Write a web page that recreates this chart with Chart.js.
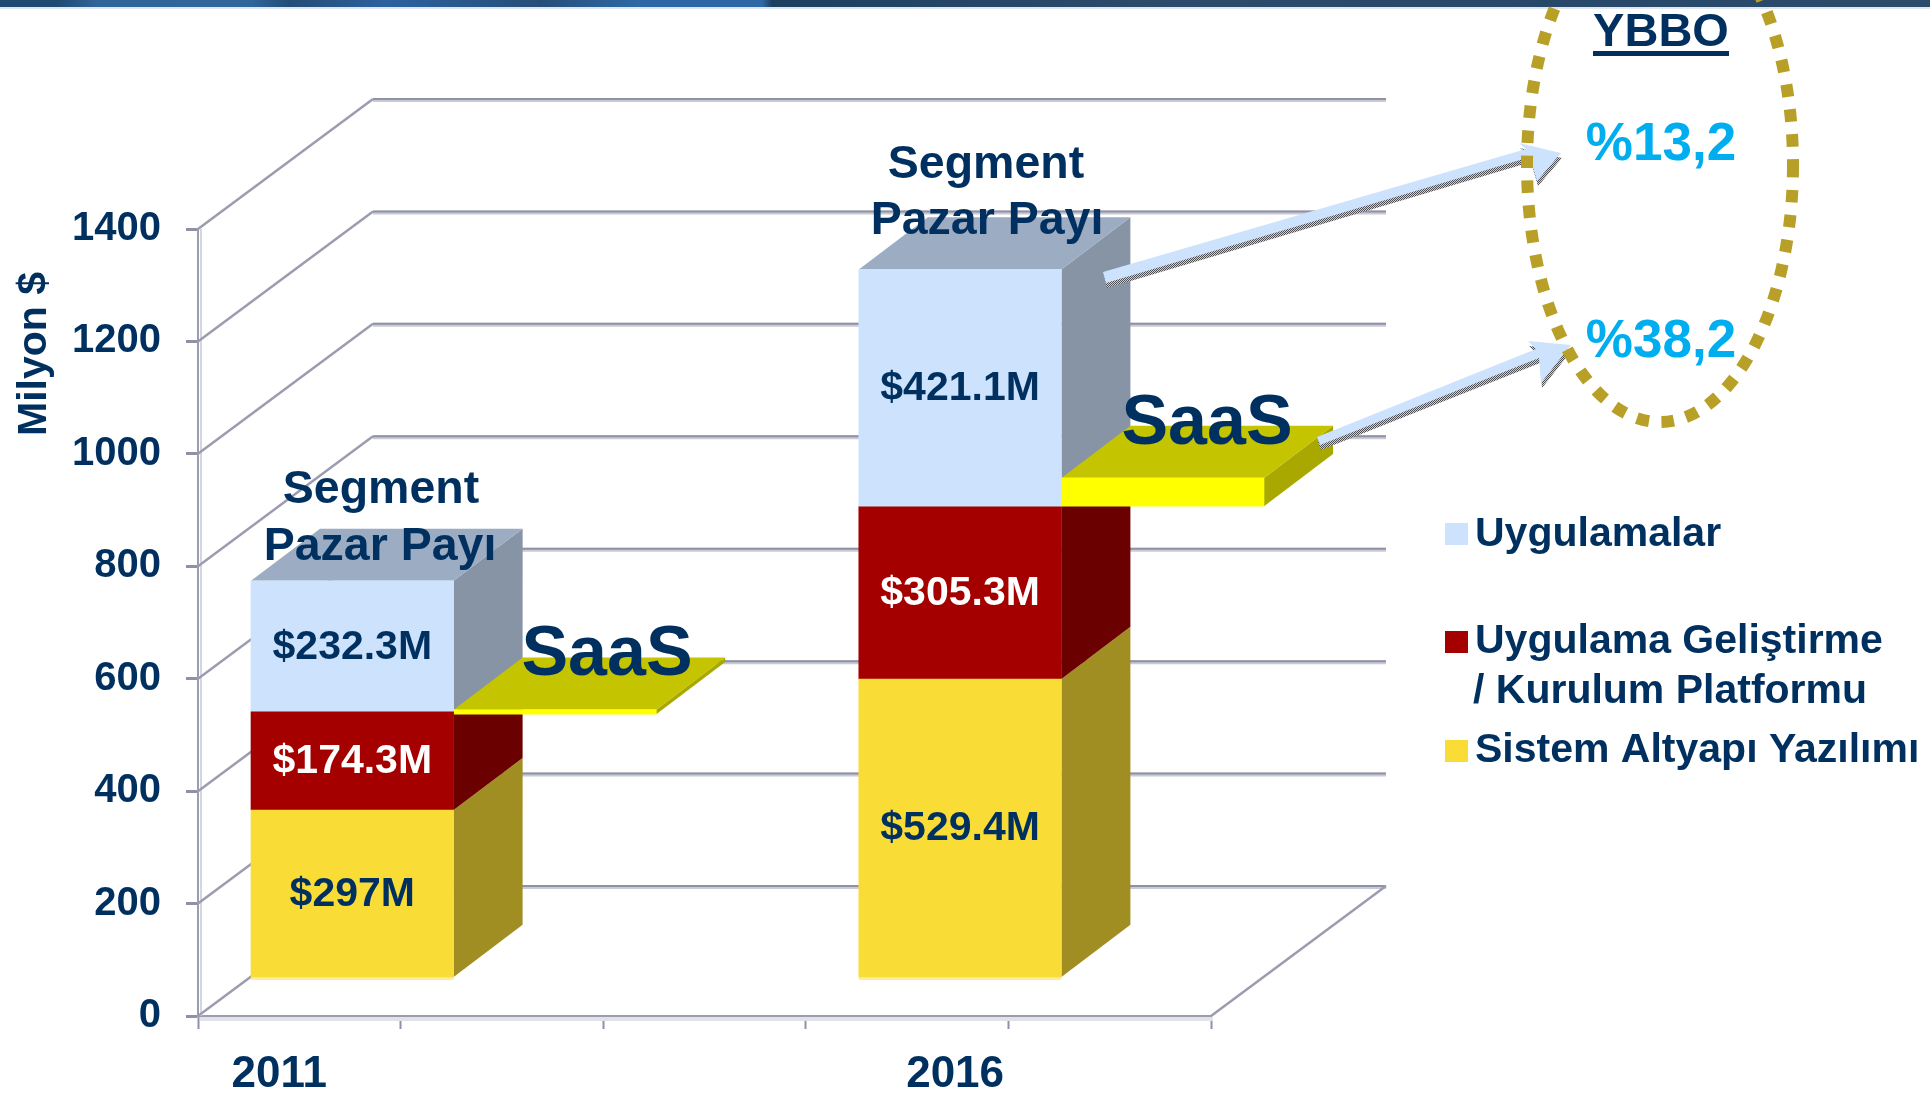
<!DOCTYPE html>
<html lang="tr">
<head>
<meta charset="utf-8">
<title>Segment Pazar Payı</title>
<script src="https://cdn.jsdelivr.net/npm/chart.js@4/dist/chart.umd.min.js"></script>
<style>
html,body{margin:0;padding:0;background:#fff;overflow:hidden}
canvas{display:block}
</style>
</head>
<body>
<canvas id="c" width="1930" height="1096"></canvas>
<script>
// ---- data ----
const categories = ["2011", "", "", "2016", ""];
const sistemAltyapi = [297, null, null, 529.4, null];
const uygulamaGelistirme = [174.3, null, null, 305.3, null];
const uygulamalar = [232.3, null, null, 421.1, null];
const saasBase = [null, 467, null, null, 836];
const saasValues = [null, 8, null, null, 50];
const yTicks = [0, 200, 400, 600, 800, 1000, 1200, 1400];
const legendLabels = ["Uygulamalar", "Uygulama Geliştirme", "/ Kurulum Platformu", "Sistem Altyapı Yazılımı"];
const growthRates = ["%13,2", "%38,2"];

const NAVY = "#00305f", FONT = '"Liberation Sans", Arial, sans-serif';
const font = px => `bold ${px}px ${FONT}`;
// 3D projection offsets
const WALL = {dx: 175, dy: -130};
const BAR_SHIFT = {dx: 53, dy: -38.5, sy: 1.003};
const DEPTH = {dx: 69, dy: -52};
const FACES = [
  {side: "#a18e22"},
  {side: "#6b0000"},
  {side: "#8694a5", top: "#9cacc2"},
  null,
  {side: "#a8a800", top: "#c4c400"}
];
const X_LABEL_SHIFT = [-20, 0, 0, 48, 0];

function poly(ctx, pts, fill) {
  ctx.beginPath();
  pts.forEach((p, i) => i ? ctx.lineTo(p[0], p[1]) : ctx.moveTo(p[0], p[1]));
  ctx.closePath();
  ctx.fillStyle = fill;
  ctx.fill();
}
function text(ctx, s, x, y, px, color, align) {
  ctx.font = font(px);
  ctx.fillStyle = color;
  ctx.textAlign = align || "center";
  ctx.textBaseline = "alphabetic";
  ctx.fillText(s, x, y);
}
function shiftedY(area, y) { return area.bottom + BAR_SHIFT.dy + (y - area.bottom) * BAR_SHIFT.sy; }
function speckle(ctx) {
  const c = document.createElement("canvas");
  c.width = c.height = 2;
  const x = c.getContext("2d");
  x.fillStyle = "#d0d0d0"; x.fillRect(0, 0, 2, 2);
  x.fillStyle = "#4e4e52"; x.fillRect(0, 0, 1, 1); x.fillRect(1, 1, 1, 1);
  return ctx.createPattern(c, "repeat");
}

const scene = {
  id: "scene",
  afterLayout(chart) {
    const s = chart.scales.x;
    s._labelItems = null;
    const items = s._computeLabelItems(chart.chartArea);
    items.forEach((it, i) => { if (it.options && it.options.translation) it.options.translation[0] += X_LABEL_SHIFT[i] || 0; });
    s._labelItems = items;
  },
  beforeDraw(chart) {
    const ctx = chart.ctx;
    ctx.save();
    ctx.fillStyle = "#ffffff";
    ctx.fillRect(0, 0, chart.width, chart.height);
    const g = ctx.createLinearGradient(0, 0, chart.width, 0);
    [[0, "#1f4a72"], [0.03, "#1f4a72"], [0.05, "#30649a"], [0.13, "#2f669c"], [0.15, "#234d75"], [0.2, "#2c62a0"], [0.28, "#264f78"], [0.33, "#2e68a5"], [0.395, "#2e68a5"], [0.4, "#1e4060"], [0.6, "#2c4c6c"], [0.8, "#28486a"], [1, "#2c4c6c"]]
      .forEach(a => g.addColorStop(a[0], a[1]));
    ctx.fillStyle = g;
    ctx.fillRect(0, 0, chart.width, 7);
    ctx.fillStyle = "#dfe6ee";
    ctx.fillRect(0, 7, chart.width, 2);
    ctx.restore();
  },
  beforeDatasetsDraw(chart) {
    const ctx = chart.ctx, a = chart.chartArea, y = chart.scales.y;
    ctx.save();
    // floor halo and wall lines
    ctx.fillStyle = "#e0e2e8";
    ctx.fillRect(a.left + 2, a.bottom + 1, a.right - a.left, 4);
    ctx.fillStyle = "#d4d6de";
    ctx.fillRect(a.left + 2, a.top, 2, a.bottom - a.top);
    yTicks.forEach(v => {
      const py = y.getPixelForValue(v);
      ctx.strokeStyle = "#c8cad4";
      ctx.lineWidth = 4;
      ctx.beginPath();
      ctx.moveTo(a.left + WALL.dx, py + WALL.dy + 1);
      ctx.lineTo(a.right + WALL.dx, py + WALL.dy + 1);
      ctx.stroke();
      ctx.strokeStyle = "#8f91a6";
      ctx.lineWidth = 2;
      ctx.beginPath();
      ctx.moveTo(a.left + WALL.dx, py + WALL.dy);
      ctx.lineTo(a.right + WALL.dx, py + WALL.dy);
      ctx.stroke();
      ctx.strokeStyle = "#9b9cb0";
      ctx.lineWidth = 2.5;
      ctx.beginPath();
      ctx.moveTo(a.left, py);
      ctx.lineTo(a.left + WALL.dx, py + WALL.dy);
      ctx.stroke();
    });
    ctx.strokeStyle = "#9b9cb0";
    ctx.lineWidth = 2.5;
    ctx.beginPath();
    ctx.moveTo(a.right, a.bottom);
    ctx.lineTo(a.right + WALL.dx, a.bottom + WALL.dy);
    ctx.stroke();
    ctx.restore();
    // bars are moved into the middle of the floor depth
    ctx.save();
    ctx.translate(BAR_SHIFT.dx, BAR_SHIFT.dy);
    ctx.translate(0, a.bottom);
    ctx.scale(1, BAR_SHIFT.sy);
    ctx.translate(0, -a.bottom);
    FACES.forEach((f, di) => {
      if (!f) return;
      const ds = chart.data.datasets[di];
      chart.getDatasetMeta(di).data.forEach((el, i) => {
        if (ds.data[i] == null) return;
        const p = el.getProps(["x", "y", "base", "width"], true);
        const L = p.x - p.width / 2, R = p.x + p.width / 2, T = p.y, B = p.base;
        poly(ctx, [[R, B], [R + DEPTH.dx, B + DEPTH.dy], [R + DEPTH.dx, T + DEPTH.dy], [R, T]], f.side);
        if (f.top) poly(ctx, [[L, T], [L + DEPTH.dx, T + DEPTH.dy], [R + DEPTH.dx, T + DEPTH.dy], [R, T]], f.top);
        if (di === 0) { ctx.fillStyle = "#fbeca0"; ctx.fillRect(L, B, p.width, 3); }
      });
    });
  },
  afterDatasetsDraw(chart) {
    const ctx = chart.ctx, a = chart.chartArea;
    ctx.restore();
    ctx.save();
    // value labels centred on the front faces
    [[0, NAVY], [1, "#ffffff"], [2, NAVY]].forEach(([di, color]) => {
      const ds = chart.data.datasets[di];
      chart.getDatasetMeta(di).data.forEach((el, i) => {
        if (ds.data[i] == null) return;
        const p = el.getProps(["x", "y", "base"], true);
        const cy = (shiftedY(a, p.y) + shiftedY(a, p.base)) / 2;
        ctx.font = font(41);
        ctx.fillStyle = color;
        ctx.textAlign = "center";
        ctx.textBaseline = "middle";
        ctx.fillText("$" + ds.data[i] + "M", p.x + BAR_SHIFT.dx, cy + 1);
      });
    });
    // annotations
    text(ctx, "Segment", 381, 503, 46.5, NAVY);
    text(ctx, "Pazar Payı", 380, 560, 46.5, NAVY);
    text(ctx, "Segment", 986, 178, 46.5, NAVY);
    text(ctx, "Pazar Payı", 987, 234, 46.5, NAVY);
    text(ctx, "SaaS", 607, 675, 70, NAVY);
    text(ctx, "SaaS", 1207, 444, 70, NAVY);
    // axis title
    ctx.save();
    ctx.translate(46, 354);
    ctx.rotate(-Math.PI / 2);
    text(ctx, "Milyon $", 0, 0, 41, NAVY);
    ctx.restore();
    // legend
    const swatches = [["#cde2fc", 523], ["#a50000", 631], ["#fadc37", 740]];
    swatches.forEach(([c, yy]) => { ctx.fillStyle = c; ctx.fillRect(1445, yy, 23, 22); });
    text(ctx, legendLabels[0], 1475, 546, 41, NAVY, "left");
    text(ctx, legendLabels[1], 1475, 653, 41, NAVY, "left");
    text(ctx, legendLabels[2], 1473, 703, 41, NAVY, "left");
    text(ctx, legendLabels[3], 1475, 762, 41, NAVY, "left");
    // growth column
    text(ctx, "YBBO", 1661, 46, 47, NAVY);
    ctx.fillStyle = NAVY;
    ctx.fillRect(1593, 51, 136, 5);
    text(ctx, growthRates[0], 1661, 160, 53, "#00aeef");
    text(ctx, growthRates[1], 1661, 357, 53, "#00aeef");
    // arrows
    const arrow1 = [[1103, 272], [1526, 149], [1519, 143], [1561, 153], [1537, 181], [1530, 157], [1106, 283]];
    const arrow2 = [[1317, 437], [1536, 349], [1528, 341], [1571, 345], [1541, 383], [1539, 358], [1320, 445]];
    const shade = speckle(ctx);
    [arrow1, arrow2].forEach(pts => {
      poly(ctx, pts.map(q => [q[0] + 1, q[1] + 5]), shade);
      poly(ctx, pts, "#cde2fc");
    });
    // dotted ellipse
    ctx.strokeStyle = "#b8a028";
    ctx.lineWidth = 12;
    ctx.setLineDash([12.5, 12.5]);
    ctx.beginPath();
    ctx.ellipse(1660, 165, 133, 257, 0, 0, Math.PI * 2);
    ctx.stroke();
    ctx.restore();
  }
};

const bar = (label, data, color) => ({label, data, backgroundColor: color, borderWidth: 0, clip: false});

new Chart(document.getElementById("c"), {
  type: "bar",
  data: {
    labels: categories,
    datasets: [
      bar("Sistem Altyapı Yazılımı", sistemAltyapi, "#fadc37"),
      bar("Uygulama Geliştirme / Kurulum Platformu", uygulamaGelistirme, "#a50000"),
      bar("Uygulamalar", uygulamalar, "#cde2fc"),
      bar("SaaS taban", saasBase, "rgba(0,0,0,0)"),
      bar("SaaS", saasValues, "#ffff00")
    ]
  },
  options: {
    responsive: false,
    animation: false,
    devicePixelRatio: 1,
    layout: {padding: {left: 0, right: 719, top: 229, bottom: 0}},
    plugins: {legend: {display: false}, tooltip: {enabled: false}, title: {display: false}},
    datasets: {bar: {barPercentage: 1, categoryPercentage: 1}},
    scales: {
      x: {
        stacked: true,
        afterFit(s) { s.height = 80; },
        border: {color: "#9b9cb0", width: 2},
        grid: {drawOnChartArea: false, drawTicks: true, tickLength: 13, tickColor: "#8f91a6", tickWidth: 2},
        ticks: {color: NAVY, font: {family: FONT, weight: "bold", size: 44}, padding: 19, autoSkip: false, maxRotation: 0}
      },
      y: {
        stacked: true,
        min: 0,
        max: 1400,
        afterFit(s) { s.width = 198; },
        afterBuildTicks(s) { s.ticks = yTicks.map(v => ({value: v})); },
        border: {color: "#9b9cb0", width: 2},
        grid: {drawOnChartArea: false, drawTicks: true, tickLength: 12, tickColor: "#8f91a6", tickWidth: 3},
        ticks: {color: NAVY, font: {family: FONT, weight: "bold", size: 40}, padding: 25, callback: v => String(v)}
      }
    }
  },
  plugins: [scene]
});
</script>
</body>
</html>
